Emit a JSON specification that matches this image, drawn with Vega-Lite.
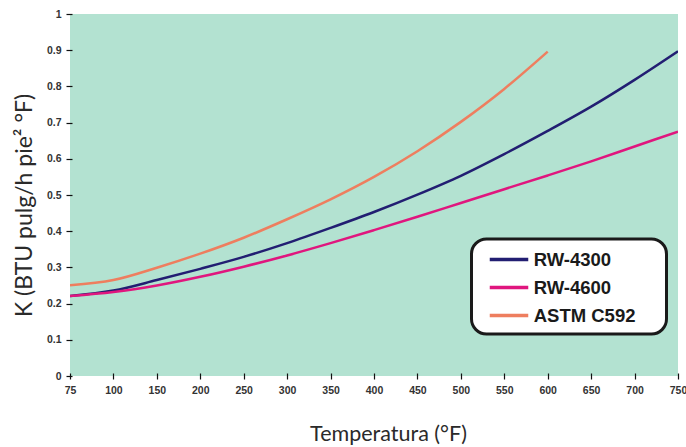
{
  "$schema": "https://vega.github.io/schema/vega-lite/v6.json",
  "autosize": {"type": "none"},
  "width": 608,
  "height": 362,
  "padding": {"left": 70, "top": 14, "right": 8, "bottom": 71},
  "background": "white",
  "view": {"fill": "#b3e2d1", "stroke": null},
  "config": {
    "font": "Liberation Sans",
    "axis": {
      "grid": false,
      "domain": false,
      "tickColor": "#111111",
      "tickWidth": 1.2,
      "tickSize": 6,
      "labelFont": "Liberation Sans",
      "labelFontWeight": "bold",
      "labelFontSize": 10.5,
      "labelColor": "#333333",
      "titleFont": "Lato",
      "titleFontWeight": "normal",
      "titleColor": "#2a2a2a"
    }
  },
  "data": {
    "values": [
      {"series": "RW-4300", "T": 75, "K": 0.221},
      {"series": "RW-4300", "T": 100, "K": 0.236},
      {"series": "RW-4300", "T": 150, "K": 0.265},
      {"series": "RW-4300", "T": 200, "K": 0.296},
      {"series": "RW-4300", "T": 250, "K": 0.329},
      {"series": "RW-4300", "T": 300, "K": 0.367},
      {"series": "RW-4300", "T": 350, "K": 0.409},
      {"series": "RW-4300", "T": 400, "K": 0.453},
      {"series": "RW-4300", "T": 450, "K": 0.501},
      {"series": "RW-4300", "T": 500, "K": 0.553},
      {"series": "RW-4300", "T": 550, "K": 0.613},
      {"series": "RW-4300", "T": 600, "K": 0.677},
      {"series": "RW-4300", "T": 650, "K": 0.744},
      {"series": "RW-4300", "T": 700, "K": 0.818},
      {"series": "RW-4300", "T": 750, "K": 0.897},
      {"series": "RW-4600", "T": 75, "K": 0.221},
      {"series": "RW-4600", "T": 100, "K": 0.232},
      {"series": "RW-4600", "T": 150, "K": 0.25},
      {"series": "RW-4600", "T": 200, "K": 0.274},
      {"series": "RW-4600", "T": 250, "K": 0.302},
      {"series": "RW-4600", "T": 300, "K": 0.333},
      {"series": "RW-4600", "T": 350, "K": 0.367},
      {"series": "RW-4600", "T": 400, "K": 0.403},
      {"series": "RW-4600", "T": 450, "K": 0.44},
      {"series": "RW-4600", "T": 500, "K": 0.478},
      {"series": "RW-4600", "T": 550, "K": 0.516},
      {"series": "RW-4600", "T": 600, "K": 0.554},
      {"series": "RW-4600", "T": 650, "K": 0.593},
      {"series": "RW-4600", "T": 700, "K": 0.634},
      {"series": "RW-4600", "T": 750, "K": 0.675},
      {"series": "ASTM C592", "T": 75, "K": 0.251},
      {"series": "ASTM C592", "T": 100, "K": 0.265},
      {"series": "ASTM C592", "T": 150, "K": 0.299},
      {"series": "ASTM C592", "T": 200, "K": 0.338},
      {"series": "ASTM C592", "T": 250, "K": 0.382},
      {"series": "ASTM C592", "T": 300, "K": 0.433},
      {"series": "ASTM C592", "T": 350, "K": 0.488},
      {"series": "ASTM C592", "T": 400, "K": 0.55},
      {"series": "ASTM C592", "T": 450, "K": 0.621},
      {"series": "ASTM C592", "T": 500, "K": 0.702},
      {"series": "ASTM C592", "T": 550, "K": 0.793},
      {"series": "ASTM C592", "T": 600, "K": 0.896}
    ]
  },
  "mark": {"type": "line", "strokeWidth": 2.5, "interpolate": "monotone", "clip": true},
  "encoding": {
    "x": {
      "field": "T",
      "type": "quantitative",
      "scale": {"domain": [75, 100, 750], "range": [0, 43.4, 608]},
      "axis": {
        "values": [75, 100, 150, 200, 250, 300, 350, 400, 450, 500, 550, 600, 650, 700, 750],
        "offset": -3,
        "labelPadding": 6,
        "labelFlush": false,
        "labelOverlap": false,
        "title": "Temperatura (°F)",
        "titleFontSize": 21.5,
        "titleX": 318,
        "titleY": 67,
        "titleAlign": "center",
        "titleBaseline": "alphabetic"
      }
    },
    "y": {
      "field": "K",
      "type": "quantitative",
      "scale": {"domain": [0, 1]},
      "axis": {
        "values": [0, 0.1, 0.2, 0.3, 0.4, 0.5, 0.6, 0.7, 0.8, 0.9, 1],
        "format": ".1~f",
        "offset": -2,
        "labelPadding": 5,
        "labelFlush": false,
        "labelOverlap": false,
        "title": "K (BTU pulg/h pie² °F)",
        "titleFontSize": 23,
        "titleX": -41,
        "titleY": 191,
        "titleAngle": -90,
        "titleAlign": "center",
        "titleBaseline": "alphabetic"
      }
    },
    "color": {
      "field": "series",
      "type": "nominal",
      "sort": ["RW-4300", "RW-4600", "ASTM C592"],
      "scale": {"domain": ["RW-4300", "RW-4600", "ASTM C592"], "range": ["#221e72", "#e0167e", "#ee7e5f"]},
      "legend": {
        "title": " ",
        "titleOrient": "bottom",
        "titleFontSize": 5,
        "titlePadding": 1,
        "orient": "none",
        "legendX": 401.5,
        "legendY": 225,
        "fillColor": "white",
        "strokeColor": "#1a1a1a",
        "cornerRadius": 15,
        "padding": 2.5,
        "symbolType": "M-1.2,0H1.2",
        "symbolSize": 1030,
        "symbolStrokeWidth": 3.5,
        "symbolOffset": 17,
        "labelOffset": 6.7,
        "labelFont": "Liberation Sans",
        "labelFontWeight": "bold",
        "labelFontSize": 18.5,
        "labelColor": "#1a1a1a",
        "labelExpr": "datum.label + '\u2800\u2800'",
        "rowPadding": 0,
        "encode": {"legend": {"update": {"strokeWidth": {"value": 3}}}}
      }
    }
  }
}
